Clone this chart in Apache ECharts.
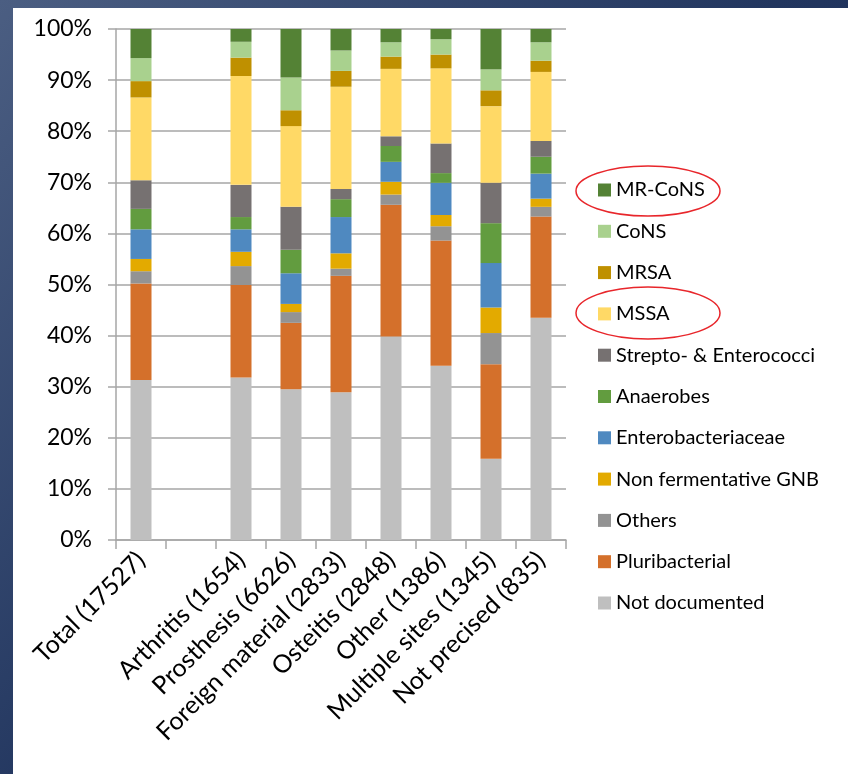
<!DOCTYPE html>
<html>
<head>
<meta charset="utf-8">
<script src="https://cdn.jsdelivr.net/npm/echarts@6/dist/echarts.min.js"></script>
<style>
html,body{margin:0;padding:0;}
#chart{width:848px;height:774px;}
</style>
</head>
<body>
<div id="chart"></div>
<script>
var categories = ['Total (17527)', '', 'Arthritis (1654)', 'Prosthesis (6626)', 'Foreign material (2833)', 'Osteitis (2848)', 'Other (1386)', 'Multiple sites (1345)', 'Not precised (835)'];
var yTicks = [0, 10, 20, 30, 40, 50, 60, 70, 80, 90, 100];

var notDocumented      = [31.3, null, 31.8, 29.5, 28.9, 39.8, 34.1, 15.9, 43.5];
var pluribacterial     = [18.9, null, 18.1, 13.0, 22.8, 25.8, 24.5, 18.5, 19.8];
var others             = [2.4,  null, 3.7,  2.1,  1.4,  2.0,  2.8,  6.1,  1.9];
var nonFermentativeGNB = [2.4,  null, 2.8,  1.6,  3.0,  2.5,  2.2,  5.0,  1.6];
var enterobacteriaceae = [5.8,  null, 4.4,  6.0,  7.1,  3.9,  6.3,  8.7,  4.9];
var anaerobes          = [4.0,  null, 2.4,  4.6,  3.5,  3.1,  1.9,  7.8,  3.3];
var streptoEntero      = [5.6,  null, 6.3,  8.4,  2.0,  1.9,  5.8,  7.9,  3.1];
var mssa               = [16.2, null, 21.3, 15.8, 20.0, 13.2, 14.7, 15.0, 13.5];
var mrsa               = [3.2,  null, 3.6,  3.1,  3.1,  2.4,  2.7,  3.1,  2.2];
var cons               = [4.5,  null, 3.1,  6.4,  4.0,  2.8,  3.0,  4.1,  3.6];
var mrCons             = [5.7,  null, 2.5,  9.5,  4.2,  2.6,  2.0,  7.9,  2.6];

var seriesDefs = [
  ['Not documented', notDocumented, '#BFBFBF'],
  ['Pluribacterial', pluribacterial, '#D4702B'],
  ['Others', others, '#939393'],
  ['Non fermentative GNB', nonFermentativeGNB, '#E3AA00'],
  ['Enterobacteriaceae', enterobacteriaceae, '#4F89C0'],
  ['Anaerobes', anaerobes, '#629C3F'],
  ['Strepto- & Enterococci', streptoEntero, '#767171'],
  ['MSSA', mssa, '#FFD966'],
  ['MRSA', mrsa, '#BF9000'],
  ['CoNS', cons, '#A9D18E'],
  ['MR-CoNS', mrCons, '#548235']
];

var FONT = 'Lato, "Open Sans", sans-serif';
var chart = echarts.init(document.getElementById('chart'), null, {renderer: 'canvas'});

var option = {
  backgroundColor: {
    type: 'linear', x: 0, y: 0, x2: 1, y2: 1,
    colorStops: [{offset: 0, color: '#4b5e82'}, {offset: 0.5, color: '#22365f'}, {offset: 1, color: '#13244d'}]
  },
  animation: false,
  graphic: [
    {type: 'rect', z: -10, silent: true, shape: {x: 13, y: 8, width: 835, height: 766}, style: {fill: '#ffffff'}},
    {type: 'ellipse', z: 100, silent: true, shape: {cx: 648, cy: 191, rx: 72, ry: 25}, style: {fill: 'none', stroke: '#e8262b', lineWidth: 1.5}},
    {type: 'ellipse', z: 100, silent: true, shape: {cx: 648, cy: 313, rx: 72, ry: 26}, style: {fill: 'none', stroke: '#e8262b', lineWidth: 1.5}}
  ],
  grid: {left: 116, right: 282, top: 29, bottom: 234, containLabel: false},
  legend: {
    orient: 'vertical',
    left: 593,
    top: 175,
    itemWidth: 13,
    itemHeight: 13,
    itemGap: 21.3,
    icon: 'rect',
    data: seriesDefs.map(function(d){return d[0];}).reverse(),
    textStyle: {fontFamily: FONT, fontSize: 20, color: '#000', lineHeight: 20}
  },
  xAxis: {
    type: 'category',
    data: categories,
    axisLine: {show: true, lineStyle: {color: '#a6a6a6', width: 1.5}},
    axisTick: {show: true, length: 9, lineStyle: {color: '#a6a6a6', width: 1.5}},
    axisLabel: {interval: 0, rotate: 45, fontFamily: FONT, fontSize: 25, color: '#000', margin: 16}
  },
  yAxis: {
    type: 'value',
    min: yTicks[0],
    max: yTicks[yTicks.length - 1],
    interval: 10,
    axisLine: {show: true, lineStyle: {color: '#a6a6a6', width: 1.5}},
    axisTick: {show: true, length: 8, lineStyle: {color: '#a6a6a6', width: 1.5}},
    splitLine: {show: true, lineStyle: {color: '#a6a6a6', width: 1.5}},
    axisLabel: {formatter: '{value}%', fontFamily: FONT, fontSize: 23, color: '#000', margin: 24}
  },
  series: seriesDefs.map(function(d){
    return {
      name: d[0], type: 'bar', stack: 'total', data: d[1], barWidth: 21,
      itemStyle: {color: d[2]}
    };
  })
};
chart.setOption(option);
</script>
</body>
</html>
